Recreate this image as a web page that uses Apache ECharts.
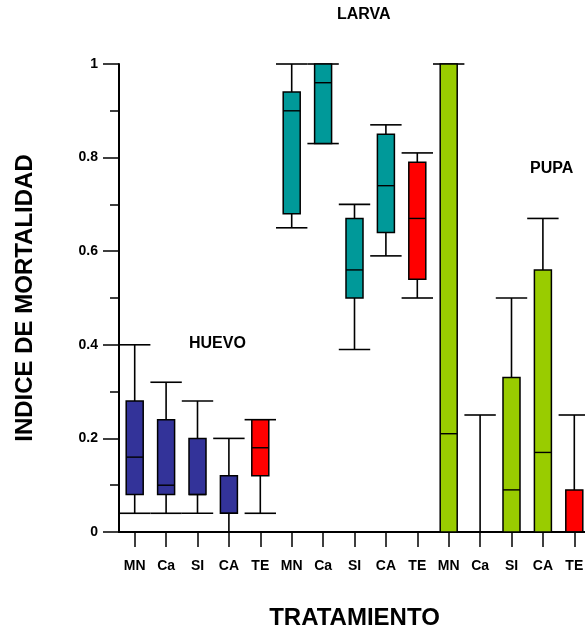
<!DOCTYPE html>
<html>
<head>
<meta charset="utf-8">
<script src="https://cdn.jsdelivr.net/npm/echarts@6/dist/echarts.min.js"></script>
<style>
  html, body { margin: 0; padding: 0; background: #fff; }
  #chart { width: 585px; height: 630px; }
</style>
</head>
<body>
<div id="chart"></div>
<script>
// treatment labels, repeated for each stage
const categories = ['MN', 'Ca', 'SI', 'CA', 'TE', 'MN', 'Ca', 'SI', 'CA', 'TE', 'MN', 'Ca', 'SI', 'CA', 'TE'];
const yTicks = [0, 0.2, 0.4, 0.6, 0.8, 1];

// each row: [min, Q1, median, Q3, max]
const huevo = [
  [0.04, 0.08, 0.16, 0.28, 0.40],
  [0.04, 0.08, 0.10, 0.24, 0.32],
  [0.04, 0.08, 0.08, 0.20, 0.28],
  [0.00, 0.04, 0.04, 0.12, 0.20],
  [0.04, 0.12, 0.18, 0.24, 0.24]
];
const larva = [
  [0.65, 0.68, 0.90, 0.94, 1.00],
  [0.83, 0.83, 0.96, 1.00, 1.00],
  [0.39, 0.50, 0.56, 0.67, 0.70],
  [0.59, 0.64, 0.74, 0.85, 0.87],
  [0.50, 0.54, 0.67, 0.79, 0.81]
];
const pupa = [
  [0.00, 0.00, 0.21, 1.00, 1.00],
  [0.00, 0.00, 0.00, 0.00, 0.25],
  [0.00, 0.00, 0.09, 0.33, 0.50],
  [0.00, 0.00, 0.17, 0.56, 0.67],
  [0.00, 0.00, 0.00, 0.09, 0.25]
];

const FONT = 'Arial, "Liberation Sans", sans-serif';
const RED = '#ff0000';

function renderBox(color) {
  return function (params, api) {
    const x = api.value(0);
    const min = api.coord([x, api.value(1)]);
    const q1 = api.coord([x, api.value(2)]);
    const med = api.coord([x, api.value(3)]);
    const q3 = api.coord([x, api.value(4)]);
    const max = api.coord([x, api.value(5)]);
    const band = api.size([1, 0])[0];
    const cx = min[0];
    const capHalf = band / 2;
    const boxHalf = 8.5;
    const fill = categories[x] === 'TE' ? RED : color;
    const line = { stroke: '#000', lineWidth: 1.6 };
    return {
      type: 'group',
      children: [
        { type: 'line', shape: { x1: cx, y1: min[1], x2: cx, y2: max[1] }, style: line },
        { type: 'line', shape: { x1: cx - capHalf, y1: min[1], x2: cx + capHalf, y2: min[1] }, style: line },
        { type: 'line', shape: { x1: cx - capHalf, y1: max[1], x2: cx + capHalf, y2: max[1] }, style: line },
        {
          type: 'rect',
          shape: { x: cx - boxHalf, y: q3[1], width: boxHalf * 2, height: q1[1] - q3[1] },
          style: { fill: fill, stroke: '#000', lineWidth: 1.5 }
        },
        { type: 'line', shape: { x1: cx - boxHalf, y1: med[1], x2: cx + boxHalf, y2: med[1] }, style: { stroke: '#000', lineWidth: 1.4 } }
      ]
    };
  };
}

function toData(rows, offset) {
  return rows.map((r, i) => [offset + i].concat(r));
}

const chart = echarts.init(document.getElementById('chart'));
chart.setOption({
  animation: false,
  grid: { left: 119, top: 64, width: 471, height: 468, outerBoundsMode: 'none' },
  xAxis: {
    type: 'category',
    data: categories,
    name: 'TRATAMIENTO',
    nameLocation: 'middle',
    nameGap: 74,
    nameTextStyle: { fontFamily: FONT, fontWeight: 'bold', fontSize: 24, color: '#000' },
    axisLine: { lineStyle: { color: '#000', width: 2 } },
    axisTick: { show: true, alignWithLabel: true, length: 15, lineStyle: { color: '#000', width: 1.5 } },
    axisLabel: { margin: 27, interval: 0, fontFamily: FONT, fontWeight: 'bold', fontSize: 14, color: '#000' },
    splitLine: { show: false }
  },
  yAxis: {
    type: 'value',
    min: yTicks[0],
    max: yTicks[yTicks.length - 1],
    interval: 0.2,
    name: 'INDICE DE MORTALIDAD',
    nameLocation: 'middle',
    nameGap: 82,
    nameRotate: 90,
    nameTextStyle: { fontFamily: FONT, fontWeight: 'bold', fontSize: 24, color: '#000' },
    axisLine: { show: true, lineStyle: { color: '#000', width: 2 } },
    axisTick: { show: true, inside: false, length: 16, lineStyle: { color: '#000', width: 1.5 } },
    minorTick: { show: true, splitNumber: 2, length: 9, lineStyle: { color: '#000', width: 1.5 } },
    axisLabel: { margin: 21, fontFamily: FONT, fontWeight: 'bold', fontSize: 14, color: '#000' },
    splitLine: { show: false }
  },
  graphic: [
    { type: 'text', left: 189, top: 336, style: { text: 'HUEVO', font: 'bold 16px ' + FONT, fill: '#000' } },
    { type: 'text', left: 337, top: 7, style: { text: 'LARVA', font: 'bold 16px ' + FONT, fill: '#000' } },
    { type: 'text', left: 530, top: 161, style: { text: 'PUPA', font: 'bold 16px ' + FONT, fill: '#000' } }
  ],
  series: [
    { name: 'HUEVO', type: 'custom', renderItem: renderBox('#333399'), data: toData(huevo, 0), encode: { x: 0, y: [1, 5] } },
    { name: 'LARVA', type: 'custom', renderItem: renderBox('#009999'), data: toData(larva, 5), encode: { x: 0, y: [1, 5] } },
    { name: 'PUPA', type: 'custom', renderItem: renderBox('#99cc00'), data: toData(pupa, 10), encode: { x: 0, y: [1, 5] } }
  ]
});
</script>
</body>
</html>
